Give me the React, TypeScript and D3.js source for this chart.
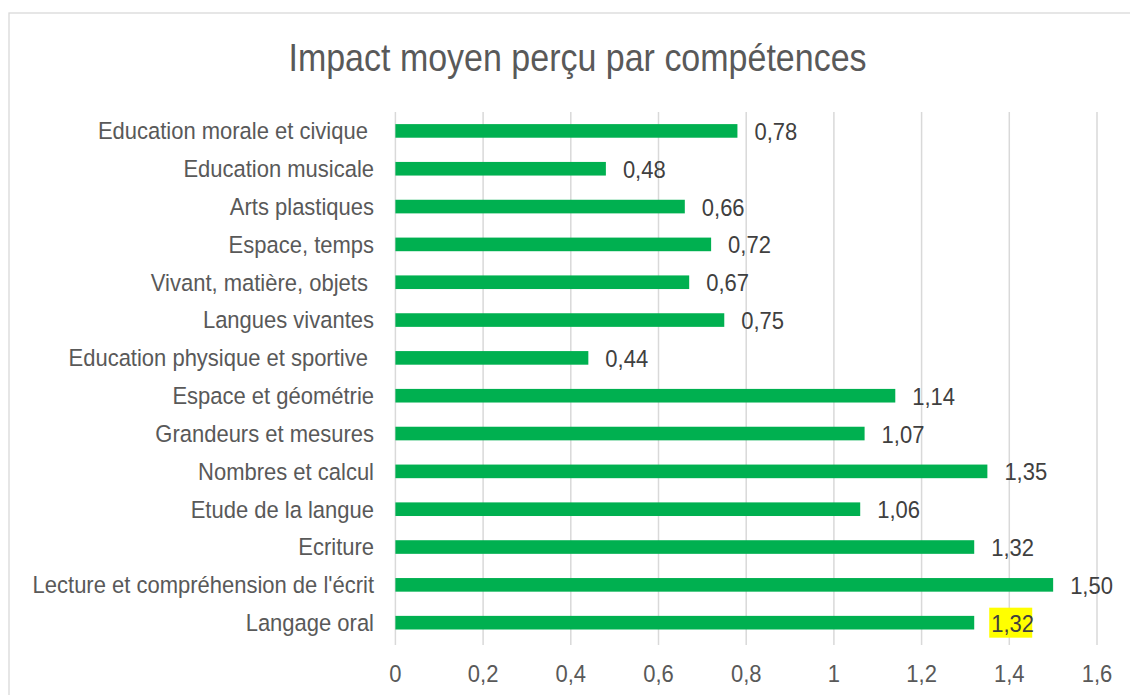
import React from "react";
import * as d3 from "d3";

const categories = [
  "Education morale et civique ",
  "Education musicale",
  "Arts plastiques",
  "Espace, temps",
  "Vivant, matière, objets ",
  "Langues vivantes",
  "Education physique et sportive ",
  "Espace et géométrie",
  "Grandeurs et mesures",
  "Nombres et calcul",
  "Etude de la langue",
  "Ecriture",
  "Lecture et compréhension de l'écrit",
  "Langage oral",
];
const values = [0.78, 0.48, 0.66, 0.72, 0.67, 0.75, 0.44, 1.14, 1.07, 1.35, 1.06, 1.32, 1.5, 1.32];
const tickValues = [0, 0.2, 0.4, 0.6, 0.8, 1, 1.2, 1.4, 1.6];
const highlighted = ["Langage oral"];
const title = "Impact moyen perçu par compétences";

const W = 1130;
const H = 695;
const FONT = "'Liberation Sans', Arial, sans-serif";

export default function App() {
  const x = d3.scaleLinear().domain([0, 1.6]).range([395.4, 1097]);
  const y = d3.scaleBand<string>().domain(categories).range([112, 641.6]).paddingInner(0.64).paddingOuter(0.32);
  const bw = y.bandwidth();
  const fmtVal = (v: number) => d3.format(".2f")(v).replace(".", ",");
  const fmtTick = (v: number) => d3.format("~g")(v).replace(".", ",");
  const sy = 1.08;

  return (
    <div style={{ position: "fixed", left: 0, top: 0, width: W, height: H, background: "#fff" }}>
      <svg width={W} height={H} style={{ display: "block" }} fontFamily={FONT}>
        <rect x={9} y={13} width={W + 20} height={H + 20} fill="#fff" stroke="#D9D9D9" strokeWidth={1.3} />
        <text
          transform={`translate(577.5,71) scale(1,1.15)`}
          textAnchor="middle"
          fontSize={34}
          fill="#595959"
        >
          {title}
        </text>
        {tickValues.map((t) => (
          <line key={"g" + t} x1={x(t)} x2={x(t)} y1={112} y2={645} stroke="#D9D9D9" strokeWidth={1.5} />
        ))}
        {categories.map((c, i) => {
          const cy = (y(c) as number) + bw / 2;
          const v = values[i];
          const lx = x(v) + 17;
          const isH = highlighted.includes(c);
          const label = fmtVal(v);
          return (
            <g key={c}>
              <rect x={x(0)} y={cy - bw / 2} width={x(v) - x(0)} height={bw} fill="#00B050" />
              <text
                transform={`translate(374,${cy + 8.3}) scale(1,${sy})`}
                textAnchor="end"
                fontSize={22}
                fill="#595959"
                style={{ whiteSpace: "pre" }}
              >
                {c}
              </text>
              {isH && <rect x={lx - 2} y={cy - 15} width={43} height={30} fill="#FFFF00" />}
              <text
                transform={`translate(${lx},${cy + 9}) scale(1,${sy})`}
                fontSize={22}
                fill="#404040"
              >
                {label}
              </text>
            </g>
          );
        })}
        {tickValues.map((t) => (
          <text
            key={"t" + t}
            transform={`translate(${x(t)},682) scale(1,${sy})`}
            textAnchor="middle"
            fontSize={22}
            fill="#595959"
          >
            {fmtTick(t)}
          </text>
        ))}
      </svg>
    </div>
  );
}
